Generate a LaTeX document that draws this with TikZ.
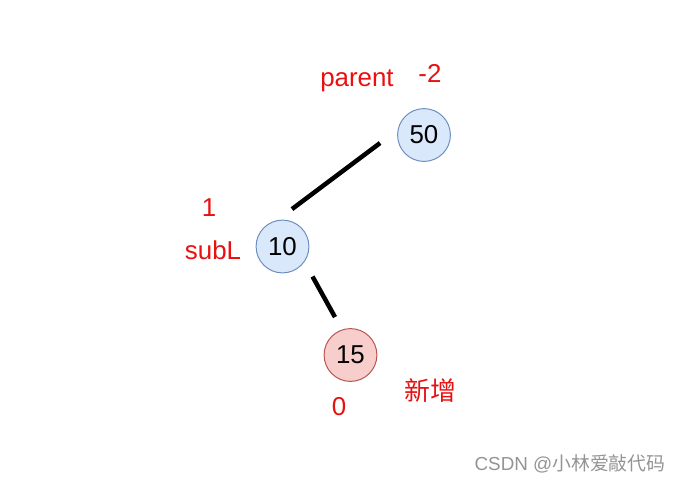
\documentclass[tikz,border=0pt]{standalone}
\usepackage{fontspec}
\setmainfont{Liberation Sans}
\newfontfamily\cjk{Noto Sans CJK SC}
\definecolor{nodeblue}{HTML}{DAE8FC}
\definecolor{edgeblue}{HTML}{6C8EBF}
\definecolor{nodered}{HTML}{F8CECC}
\definecolor{edgered}{HTML}{B85450}
\definecolor{tagred}{HTML}{E81010}
\begin{document}
\begin{tikzpicture}[x=0.025cm,y=-0.025cm,font=\fontsize{18.4}{21}\selectfont,key/.style={circle,draw=edgeblue,fill=nodeblue,line width=0.7pt,minimum size=1.32cm,inner sep=0pt},newkey/.style={key,draw=edgered,fill=nodered},tag/.style={text=tagred,inner sep=0pt},link/.style={line width=3.2pt}]
\useasboundingbox (0,0) rectangle (680,482);
\node[key] (n50) at (424,135) {50};
\node[key] (n10) at (282.5,246.5) {10};
\node[newkey] (n15) at (350.5,355) {15};
\draw[link] ([shift={(-17,8)}]n50.west)--([shift={(9.5,-10.5)}]n10.north);
\draw[link] ([shift={(11,11)}]n10.south east)--([shift={(-15.5,-11)}]n15.north);
\node[tag] (parent) at (357,81) {parent};
\node[tag] (bf50) at (430,73) {-2};
\node[tag] (bf10) at (209,208) {1};
\node[tag] (subl) at (213,250) {subL};
\node[tag] (bf15) at (339,407) {0};
\node[tag,font=\cjk\fontsize{18.4}{21}\selectfont] (added) at (430,391) {新增};
\node[text=black!42,inner sep=0pt,font=\fontsize{13.4}{16}\selectfont] (mark) at (570,464) {CSDN @{\cjk 小林爱敲代码}};
\end{tikzpicture}
\end{document}
